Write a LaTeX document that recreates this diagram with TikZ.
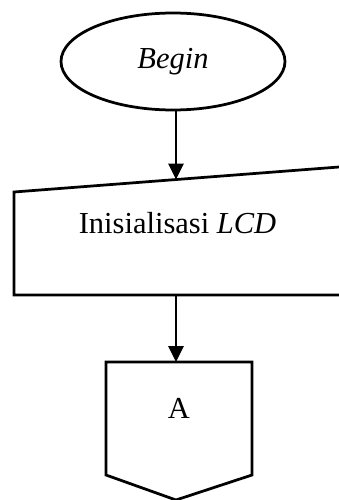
\documentclass[tikz,border=0pt]{standalone}
\usepackage{fontspec}
\setmainfont{Liberation Serif}
\usetikzlibrary{shapes.geometric,arrows.meta,positioning}

\begin{document}
\begin{tikzpicture}[x=0.4pt, y=-0.4pt,
  terminal/.style={ellipse, draw, line width=1.1pt, minimum width=224*0.4pt, minimum height=97*0.4pt, inner sep=0pt},
  txt/.style={font=\fontsize{12.2}{14}\selectfont, inner sep=0pt},
  outline/.style={draw, line width=1.1pt, line join=miter},
  flow/.style={-{Triangle[length=6.4pt, width=6pt]}, line width=1.1pt}
]
\useasboundingbox (0,0) rectangle (339,500);

% Start
\node[terminal, txt] (begin) at (173,61.5) {\itshape Begin};

% Manual input
\coordinate (inTop) at (176,179.5);
\coordinate (inBot) at (176,295);
\draw[outline] (339,167) -- (14,192) -- (14,295) -- (339,295);
\node[txt] (init) at (177.5,223) {Inisialisasi \textit{LCD}};

% Off-page connector
\coordinate (offTop) at (176,362);
\draw[outline] (106,362) -- (252,362) -- (252,475) -- (176,500) -- (106,475) -- cycle;
\node[txt] (conA) at (179,408) {A};

\draw[flow] (inTop |- begin.south) -- (inTop);
\draw[flow] (inBot) -- (offTop);
\end{tikzpicture}
\end{document}
